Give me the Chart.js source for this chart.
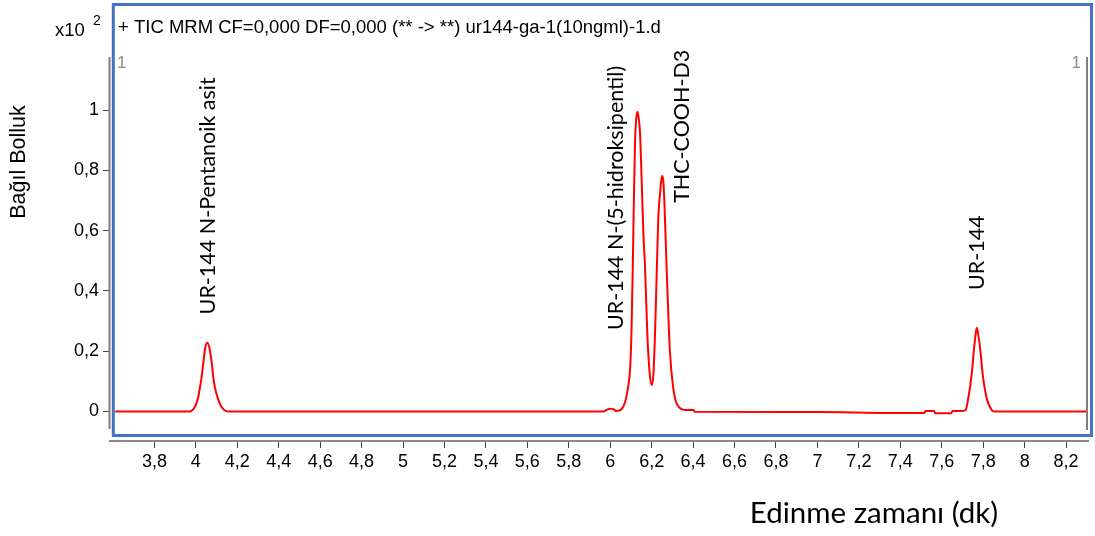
<!DOCTYPE html>
<html>
<head>
<meta charset="utf-8">
<script src="https://cdn.jsdelivr.net/npm/chart.js@4.4.1/dist/chart.umd.min.js"></script>
<style>
  html, body { margin: 0; padding: 0; background: #fff; }
</style>
</head>
<body>
<canvas id="kromatogram" width="1095" height="536"></canvas>
<script>
// Edinme zamanı (dk) ve bağıl bolluk (x10^2)
const zaman = [
  3.611, 3.972, 3.988, 4.000, 4.012, 4.020, 4.028, 4.036, 4.045, 4.055, 4.066, 4.072, 4.077, 4.084,
  4.092, 4.100, 4.108, 4.120, 4.133, 4.145, 4.157,
  5.967, 5.983, 5.998, 6.015, 6.028, 6.040, 6.055, 6.071, 6.080, 6.090, 6.096, 6.102, 6.108, 6.114,
  6.120, 6.126, 6.131, 6.137, 6.144, 6.152, 6.160, 6.168, 6.179, 6.190, 6.200, 6.208, 6.216, 6.224,
  6.232, 6.240, 6.246, 6.251, 6.256, 6.261, 6.272, 6.288, 6.304, 6.316, 6.334, 6.345, 6.361, 6.401,
  6.409, 7.000, 7.350, 7.515, 7.522, 7.562, 7.569, 7.645, 7.652, 7.700, 7.715, 7.728, 7.744, 7.756,
  7.763, 7.769, 7.776, 7.785, 7.798, 7.817, 7.841, 7.857, 8.300
];
const bolluk = [
  0, 0, 0.008, 0.022, 0.049, 0.08, 0.115, 0.16, 0.21, 0.228, 0.21, 0.185, 0.16, 0.115,
  0.08, 0.058, 0.04, 0.02, 0.008, 0.002, 0,
  0, 0.006, 0.009, 0.008, 0.002, 0.003, 0.008, 0.03, 0.056, 0.10, 0.144, 0.25, 0.45, 0.70,
  0.90, 0.975, 0.994, 0.975, 0.92, 0.76, 0.59, 0.478, 0.256, 0.13, 0.088, 0.12, 0.256, 0.45,
  0.644, 0.72, 0.765, 0.781, 0.765, 0.70, 0.478, 0.20, 0.078, 0.035, 0.013, 0.008, 0.005, 0.005,
  -0.001, -0.002, -0.005, -0.005, 0.002, 0.002, -0.006, -0.006, 0.002, 0.002, 0.005, 0.044, 0.121, 0.21,
  0.255, 0.278, 0.255, 0.21, 0.121, 0.044, 0.005, 0, 0
];

const xTikler = [3.8, 4, 4.2, 4.4, 4.6, 4.8, 5, 5.2, 5.4, 5.6, 5.8, 6, 6.2, 6.4, 6.6, 6.8, 7, 7.2, 7.4, 7.6, 7.8, 8, 8.2];
const xEtiketler = ['3,8', '4', '4,2', '4,4', '4,6', '4,8', '5', '5,2', '5,4', '5,6', '5,8', '6', '6,2', '6,4', '6,6', '6,8', '7', '7,2', '7,4', '7,6', '7,8', '8', '8,2'];
const yTikler = [0, 0.2, 0.4, 0.6, 0.8, 1];
const yEtiketler = ['0', '0,2', '0,4', '0,6', '0,8', '1'];

// Tepe adları ve etiketlerin başladığı nokta (zaman, bolluk)
const tepeAdlari = ['UR-144 N-Pentanoik asit', 'UR-144 N-(5-hidroksipentil)', 'THC-COOH-D3', 'UR-144'];
const tepeZaman = [4.060, 6.028, 6.347, 7.772];
const tepeEtiketY = [0.322, 0.27, 0.692, 0.403];

const baslik = '+ TIC MRM CF=0,000 DF=0,000 (** -> **) ur144-ga-1(10ngml)-1.d';

const yaziTipi = "'Liberation Sans', Arial, sans-serif";

const cercevePlugin = {
  id: 'cerceve',
  afterDraw(chart) {
    const c = chart.ctx;
    const xs = chart.scales.x, ys = chart.scales.y;
    c.save();

    // gri dikey kenarlar
    c.strokeStyle = '#7f7f7f';
    c.lineWidth = 2;
    c.beginPath();
    c.moveTo(109.5, 57); c.lineTo(109.5, 429);
    c.moveTo(1087, 57); c.lineTo(1087, 430);
    c.stroke();

    // mavi çerçeve
    c.strokeStyle = '#4472c4';
    c.lineWidth = 3;
    c.strokeRect(113.3, 4.5, 978.2, 431);

    // üst yazılar
    c.fillStyle = '#000';
    c.textBaseline = 'middle';
    c.textAlign = 'left';
    c.font = '18.5px ' + yaziTipi;
    c.fillText(baslik, 118, 28);
    c.fillText('x10', 55, 31);
    c.font = '14px ' + yaziTipi;
    c.fillText('2', 93, 21);

    c.fillStyle = '#8c8c8c';
    c.font = '17px ' + yaziTipi;
    c.fillText('1', 117, 63);
    c.textAlign = 'right';
    c.fillText('1', 1081, 63);

    // y ekseni başlığı
    c.fillStyle = '#000';
    c.save();
    c.translate(19.5, 162);
    c.rotate(-Math.PI / 2);
    c.textAlign = 'center';
    c.font = '21.5px ' + yaziTipi;
    c.fillText('Bağıl Bolluk', 0, 0);
    c.restore();

    // x ekseni başlığı
    c.textAlign = 'center';
    c.font = "29.5px Lato, 'Open Sans', sans-serif";
    c.fillText('Edinme zamanı (dk)', 874, 513);

    // tepe etiketleri
    c.font = "21.5px Lato, 'Open Sans', sans-serif";
    tepeAdlari.forEach((ad, i) => {
      const px = xs.getPixelForValue(tepeZaman[i]);
      const py = ys.getPixelForValue(tepeEtiketY[i]);
      c.save();
      c.translate(px, py);
      c.rotate(-Math.PI / 2);
      c.textAlign = 'left';
      c.textBaseline = 'middle';
      c.fillText(ad, 0, 0);
      c.restore();
    });

    c.restore();
  }
};

const ctx = document.getElementById('kromatogram');

new Chart(ctx, {
  type: 'line',
  data: {
    datasets: [{
      label: 'TIC',
      data: zaman.map((t, i) => ({ x: t, y: bolluk[i] })),
      borderColor: '#ff0000',
      borderWidth: 2,
      pointRadius: 0,
      fill: false,
      cubicInterpolationMode: 'monotone'
    }]
  },
  options: {
    responsive: false,
    devicePixelRatio: 1,
    animation: false,
    layout: { padding: { top: 57, right: 7, left: 0, bottom: 0 } },
    plugins: {
      legend: { display: false },
      tooltip: { enabled: false }
    },
    scales: {
      x: {
        type: 'linear',
        min: 3.5857,
        max: 8.3058,
        afterBuildTicks: s => { s.ticks = xTikler.map(v => ({ value: v })); },
        afterFit: s => { s.height = 95; },
        ticks: {
          autoSkip: false,
          maxRotation: 0,
          padding: 3,
          color: '#000',
          font: { family: yaziTipi, size: 18 },
          callback: (v, i) => xEtiketler[i]
        },
        grid: { drawOnChartArea: false, drawTicks: true, tickLength: 7, color: '#444' },
        border: { display: true, color: '#8a8a8a', width: 2 }
      },
      y: {
        min: -0.0978,
        max: 1.1758,
        afterBuildTicks: s => { s.ticks = yTikler.map(v => ({ value: v })); },
        afterFit: s => { s.width = 110; },
        ticks: {
          padding: 4,
          color: '#000',
          font: { family: yaziTipi, size: 18 },
          callback: (v, i) => yEtiketler[i]
        },
        grid: { drawOnChartArea: false, drawTicks: true, tickLength: 7, color: '#444' },
        border: { display: false }
      }
    }
  },
  plugins: [cercevePlugin]
});
</script>
</body>
</html>
